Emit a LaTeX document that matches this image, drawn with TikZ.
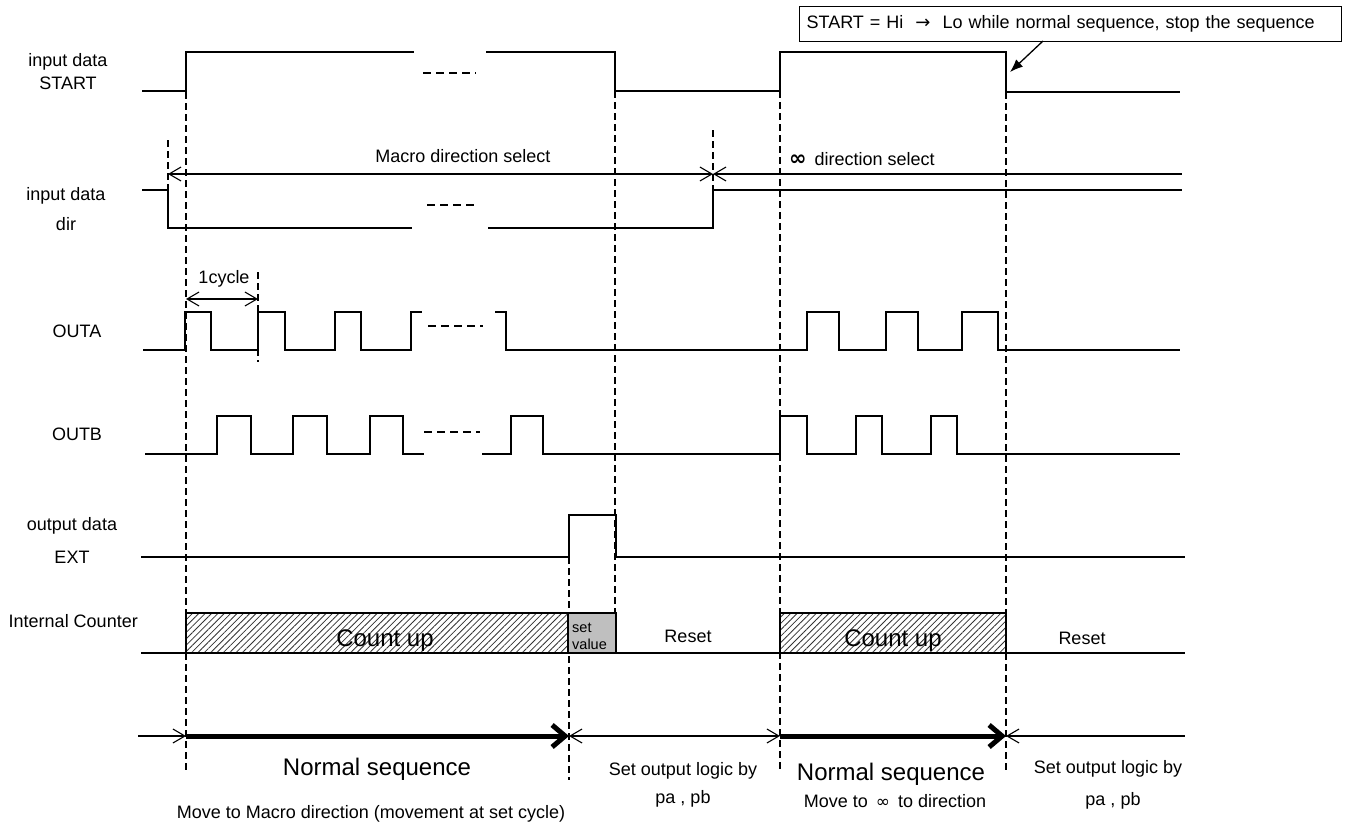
\documentclass[tikz,border=0pt]{standalone}
\usepackage{fontspec}
\setmainfont{Liberation Sans}
\newfontfamily\symfam{DejaVu Sans}
\usetikzlibrary{arrows.meta,patterns.meta}

\begin{document}
\begin{tikzpicture}[x=1pt,y=-1pt,
  sig/.style={line width=1.5pt},
  guide/.style={line width=1.2pt, dash pattern=on 7pt off 4pt},
  gapdash/.style={line width=1.4pt, dash pattern=on 8pt off 5pt},
  txt/.style={font=\fontsize{18}{22}\selectfont, inner sep=0pt, anchor=base},
  bigtxt/.style={font=\fontsize{24}{28}\selectfont, inner sep=0pt, anchor=base},
  smalltxt/.style={font=\fontsize{14.5}{17}\selectfont, inner sep=0pt, anchor=base west},
  span/.style={line width=1.1pt},
  heavy/.style={line width=5pt},
  thinbarb/.tip={Straight Barb[length=12pt,width=14pt]},
  fatbarb/.tip={Straight Barb[length=13pt,width=22pt]},
  hatched/.style={pattern={Lines[angle=45,distance=4.5pt,line width=0.8pt]}, pattern color=black!80},
]
\useasboundingbox (0,0) rectangle (1349,825);
\fill[white] (0,0) rectangle (1349,825);

% ---------- signal names ----------
\node[txt] (nStartA) at (68,66) {input data};
\node[txt] (nStartB) at (68,89) {START};
\node[txt] (nDirA) at (66,200) {input data};
\node[txt] (nDirB) at (66,230) {dir};
\node[txt] (nOutA) at (77,337) {OUTA};
\node[txt] (nOutB) at (77,440) {OUTB};
\node[txt] (nExtA) at (72,530) {output data};
\node[txt] (nExtB) at (72,563) {EXT};
\node[txt, anchor=base east] (nCnt) at (138,627) {Internal Counter};

% ---------- guide lines ----------
\draw[guide] (186,92) -- (186,772);
\draw[guide] (168,140) -- (168,190);
\draw[guide] (258,272) -- (258,362);
\draw[guide] (713,130) -- (713,190);
\draw[guide] (615,91) -- (615,613);
\draw[guide] (569,557) -- (569,780);
\draw[guide] (780,91) -- (780,772);
\draw[guide] (1006,92) -- (1006,770);

% ---------- START ----------
\draw[sig] (142,91) -- (186,91) -- (186,52) -- (414,52);
\draw[gapdash] (423,73) -- (476,73);
\draw[sig] (486,52) -- (615,52) -- (615,91) -- (780,91) -- (780,52)
  -- (1006,52) -- (1006,92) -- (1180,92);

% callout
\node[draw, line width=1.2pt, anchor=north west, minimum height=35pt,
      text width=528pt, inner xsep=7pt, inner ysep=0pt, align=left,
      font=\fontsize{18}{22}\selectfont] (note) at (799,6)
  {START = Hi ~{\symfam →}~ Lo while normal sequence, stop the sequence};
\coordinate (callFrom) at (1043,41);
\coordinate (callTo) at (1010,72);
\draw[line width=1.3pt, -{Latex[length=13pt,width=10pt]}] (callFrom) -- (callTo);

% ---------- dir ----------
\coordinate (selA) at (168,174);
\coordinate (selB) at (713,174);
\coordinate (selC) at (1182,174);
\draw[span, thinbarb-thinbarb] (selA) -- (selB);
\draw[span, thinbarb-] (selB) -- (selC);
\node[txt] (tMacro) at (463,162) {Macro direction select};
\node[txt, anchor=base west] (tInf) at (789,165)
  {{\symfam\bfseries\fontsize{21}{22}\selectfont ∞}\hspace{8pt}direction select};

\draw[sig] (142,190) -- (168,190) -- (168,228) -- (412,228);
\draw[gapdash] (427,205) -- (478,205);
\draw[sig] (488,228) -- (713,228) -- (713,190) -- (1182,190);

% ---------- OUTA ----------
\coordinate (cycA) at (186,299);
\coordinate (cycB) at (258,299);
\draw[span, thinbarb-thinbarb] (cycA) -- (cycB);
\node[txt] (tCycle) at (224,283) {1cycle};

\draw[sig] (143,350) -- (185,350) -- (185,312) -- (211,312) -- (211,350)
  -- (258,350) -- (258,312) -- (285,312) -- (285,350)
  -- (335,350) -- (335,312) -- (361,312) -- (361,350)
  -- (411,350) -- (411,312) -- (422,312);
\draw[gapdash] (428,326) -- (483,326);
\draw[sig] (495,312) -- (506,312) -- (506,350)
  -- (807,350) -- (807,312) -- (839,312) -- (839,350)
  -- (886,350) -- (886,312) -- (918,312) -- (918,350)
  -- (962,350) -- (962,312) -- (998,312) -- (998,350) -- (1180,350);

% ---------- OUTB ----------
\draw[sig] (145,454) -- (217,454) -- (217,416) -- (251,416) -- (251,454)
  -- (293,454) -- (293,416) -- (327,416) -- (327,454)
  -- (370,454) -- (370,416) -- (403,416) -- (403,454) -- (424,454);
\draw[gapdash] (424,432) -- (480,432);
\draw[sig] (482,454) -- (511,454) -- (511,416) -- (543,416) -- (543,454)
  -- (780,454) -- (780,416) -- (807,416) -- (807,454)
  -- (856,454) -- (856,416) -- (882,416) -- (882,454)
  -- (931,454) -- (931,416) -- (957,416) -- (957,454) -- (1180,454);

% ---------- EXT ----------
\draw[sig] (141,557) -- (569,557) -- (569,515) -- (616,515) -- (616,557) -- (1185,557);

% ---------- Internal counter ----------
\draw[sig] (141,653) -- (186,653);
\path[hatched] (186,613) rectangle (568,653);
\draw[line width=1.3pt] (186,613) rectangle (568,653);
\filldraw[fill=black!25, line width=1.3pt] (568,613) rectangle (616,653);
\draw[sig] (616,653) -- (780,653);
\path[hatched] (780,613) rectangle (1006,653);
\draw[line width=1.3pt] (780,613) rectangle (1006,653);
\draw[sig] (1006,653) -- (1185,653);

\node[bigtxt] (cUp1) at (385,646) {Count up};
\node[smalltxt] (cSet1) at (572,632) {set};
\node[smalltxt] (cSet2) at (572,649) {value};
\node[txt] (cRes1) at (688,642) {Reset};
\node[bigtxt] (cUp2) at (893,646) {Count up};
\node[txt] (cRes2) at (1082,644) {Reset};

% ---------- sequence phases ----------
\coordinate (seqA) at (138,736);
\coordinate (seqB) at (186,736);
\coordinate (seqC) at (569,736);
\coordinate (seqD) at (780,736);
\coordinate (seqE) at (1006,736);
\coordinate (seqF) at (1185,736);
\draw[span, -thinbarb] (seqA) -- (seqB);
\draw[heavy, -fatbarb] (seqB) -- (seqC);
\draw[span, thinbarb-thinbarb] (seqC) -- (seqD);
\draw[heavy, -fatbarb] (seqD) -- (seqE);
\draw[span, thinbarb-] (seqE) -- (seqF);

\node[bigtxt] (pNorm1) at (377,775) {Normal sequence};
\node[txt] (pMove1) at (371,818) {Move to Macro direction (movement at set cycle)};
\node[txt] (pSet1) at (683,775) {Set output logic by};
\node[txt] (pPa1) at (683,803) {pa , pb};
\node[bigtxt] (pNorm2) at (891,780) {Normal sequence};
\node[txt] (pMove2) at (895,807) {Move to \,{\symfam\fontsize{17}{20}\selectfont ∞}\, to direction};
\node[txt] (pSet2) at (1108,773) {Set output logic by};
\node[txt] (pPa2) at (1113,805) {pa , pb};
\end{tikzpicture}
\end{document}
